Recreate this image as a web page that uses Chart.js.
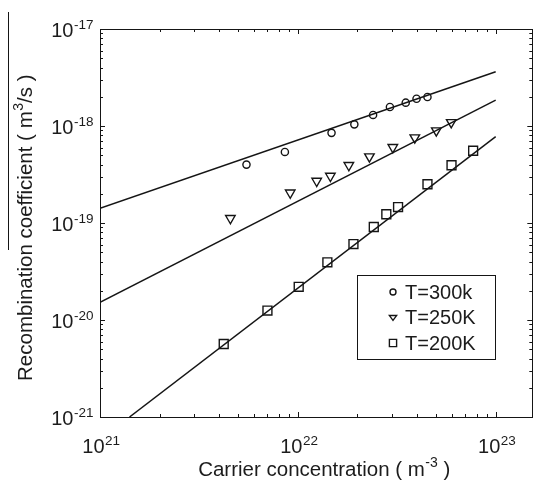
<!DOCTYPE html>
<html>
<head>
<meta charset="utf-8">
<script src="https://cdn.jsdelivr.net/npm/chart.js@4.4.1/dist/chart.umd.min.js"></script>
<style>
  html, body { margin: 0; padding: 0; background: #fff; overflow: hidden; }
  #wrap { width: 535px; height: 486px; overflow: hidden; }
</style>
</head>
<body>
<div id="wrap"><canvas id="myChart" width="540" height="486"></canvas></div>
<script>
// carrier concentration (m^-3) and recombination coefficient (m^3/s)
const conc300 = [5.5e21, 8.6e21, 1.48e22, 1.93e22, 2.4e22, 2.92e22, 3.51e22, 3.98e22, 4.52e22];
const coef300 = [4.0e-19, 5.4e-19, 8.5e-19, 1.04e-18, 1.3e-18, 1.57e-18, 1.74e-18, 1.91e-18, 1.99e-18];
const conc250 = [4.56e21, 9.15e21, 1.245e22, 1.46e22, 1.81e22, 2.3e22, 3.02e22, 3.9e22, 5.01e22, 5.96e22];
const coef250 = [1.12e-19, 2.05e-19, 2.71e-19, 3.05e-19, 3.94e-19, 4.83e-19, 6.03e-19, 7.58e-19, 8.95e-19, 1.09e-18];
const conc200 = [4.22e21, 7.02e21, 1.01e22, 1.41e22, 1.91e22, 2.42e22, 2.8e22, 3.21e22, 4.52e22, 5.98e22, 7.69e22];
const coef200 = [5.66e-21, 1.25e-20, 2.2e-20, 3.93e-20, 6.06e-20, 9.1e-20, 1.23e-19, 1.46e-19, 2.51e-19, 3.94e-19, 5.56e-19];

// fitted power-law lines (end points)
const fitConc = [1e21, 1e23];
const fit300 = [1.42e-19, 3.63e-18];
const fit250 = [1.52e-20, 1.85e-18];
const fitConc200 = [1.41e21, 1e23];
const fit200 = [1e-21, 7.76e-19];

const labels = ["T=300k", "T=250K", "T=200K"];
const xDecades = [21, 22, 23];
const yDecades = [-21, -20, -19, -18, -17];

const ink = "#151515";
const face = "Arial, 'Liberation Sans', sans-serif";
const pts = (xs, ys) => xs.map((v, i) => ({ x: v, y: ys[i] }));

function drawMarker(ctx, style, x, y, r) {
  ctx.beginPath();
  if (style === "circle") {
    ctx.arc(x, y, r, 0, Math.PI * 2);
  } else if (style === "triangle") {
    const h = r * 0.9;
    ctx.moveTo(x - r, y - h * 0.6);
    ctx.lineTo(x + r, y - h * 0.6);
    ctx.lineTo(x, y + h * 0.9);
    ctx.closePath();
  } else {
    ctx.rect(x - r, y - r, r * 2, r * 2);
  }
  ctx.stroke();
}

// text runs with superscript pieces, laid out left to right
function runText(ctx, parts, x, y, align, big, small, rise) {
  const bigFont = big + "px " + face;
  const smallFont = small + "px " + face;
  let total = 0;
  parts.forEach(p => { ctx.font = p.sup ? smallFont : bigFont; total += ctx.measureText(p.t).width; });
  let cx = align === "center" ? x - total / 2 : align === "right" ? x - total : x;
  ctx.textAlign = "left";
  ctx.textBaseline = "alphabetic";
  parts.forEach(p => {
    ctx.font = p.sup ? smallFont : bigFont;
    ctx.fillText(p.t, cx, p.sup ? y - rise : y);
    cx += ctx.measureText(p.t).width + (p.sup ? 0 : 0.5);
  });
}

const powLabel = (ctx, exp, x, base, align) =>
  runText(ctx, [{ t: "10" }, { t: exp, sup: true }], x, base, align, 20, 13.5, 8.5);

const framePlugin = {
  id: "frame",
  afterDraw(chart) {
    const { ctx, chartArea: a, scales: { x, y } } = chart;
    ctx.save();
    ctx.strokeStyle = ink;
    ctx.fillStyle = "#1c1c1c";
    ctx.lineWidth = 1;
    ctx.strokeRect(Math.round(a.left) + 0.5, Math.round(a.top) + 0.5,
      Math.round(a.right - a.left), Math.round(a.bottom - a.top));

    // inward ticks, decades longer
    ctx.beginPath();
    xDecades.forEach(d => {
      for (let m = 1; m <= 9; m++) {
        const v = m * Math.pow(10, d);
        if (v > x.max) break;
        const px = Math.round(x.getPixelForValue(v)) + 0.5;
        const len = m === 1 ? 5 : 3;
        ctx.moveTo(px, a.bottom); ctx.lineTo(px, a.bottom - len);
        ctx.moveTo(px, a.top); ctx.lineTo(px, a.top + len);
      }
    });
    yDecades.forEach(d => {
      for (let m = 1; m <= 9; m++) {
        const v = m * Math.pow(10, d);
        if (v > y.max * 1.0001) break;
        const py = Math.round(y.getPixelForValue(v)) + 0.5;
        const len = m === 1 ? 5 : 3;
        ctx.moveTo(a.left, py); ctx.lineTo(a.left + len, py);
        ctx.moveTo(a.right, py); ctx.lineTo(a.right - len, py);
      }
    });
    ctx.stroke();

    // decade labels
    xDecades.forEach(d => {
      powLabel(ctx, String(d), x.getPixelForValue(Math.pow(10, d)) + 1, a.bottom + 36, "center");
    });
    yDecades.forEach(d => {
      powLabel(ctx, String(d), 93, y.getPixelForValue(Math.pow(10, d)) + 8, "right");
    });

    // axis titles
    runText(ctx, [{ t: "Carrier concentration ( m" }, { t: "-3", sup: true }, { t: " )" }],
      324, 476, "center", 20.5, 14, 9);
    ctx.save();
    ctx.translate(32, 228);
    ctx.rotate(-Math.PI / 2);
    runText(ctx, [{ t: "Recombination coefficient ( m" }, { t: "3", sup: true }, { t: "/s )" }],
      0, 0, "center", 20.5, 14, 9);
    ctx.restore();

    // left rule
    ctx.beginPath();
    ctx.moveTo(8.5, 12); ctx.lineTo(8.5, 250);
    ctx.stroke();

    // legend box
    const bx = 357, by = 275, bw = 138, bh = 84;
    ctx.fillStyle = "#fff";
    ctx.fillRect(bx, by, bw, bh);
    ctx.strokeRect(bx + 0.5, by + 0.5, bw, bh);
    ctx.fillStyle = "#1c1c1c";
    const rows = chart.data.datasets.filter(ds => ds.showLine === false);
    rows.forEach((ds, i) => {
      const ry = by + 17 + i * 25.5;
      ctx.lineWidth = 1.4;
      drawMarker(ctx, ds.pointStyle, 393, ry, ds.pointStyle === "circle" ? 3 : 3.6);
      ctx.font = "20px " + face;
      ctx.textAlign = "left";
      ctx.textBaseline = "middle";
      ctx.fillText(ds.label, 405, ry + 1);
    });
    ctx.restore();
  }
};

const markerBase = {
  showLine: false,
  borderColor: ink,
  backgroundColor: "rgba(0,0,0,0)",
  pointBorderColor: ink,
  pointBackgroundColor: "rgba(0,0,0,0)",
  pointBorderWidth: 1.4,
};
const fitBase = {
  showLine: true,
  borderColor: ink,
  borderWidth: 1.5,
  pointRadius: 0,
  fill: false,
};

const chart = new Chart(document.getElementById("myChart"), {
  type: "scatter",
  data: {
    datasets: [
      { ...fitBase, label: "fit300", data: pts(fitConc, fit300) },
      { ...fitBase, label: "fit250", data: pts(fitConc, fit250) },
      { ...fitBase, label: "fit200", data: pts(fitConc200, fit200) },
      { ...markerBase, label: labels[0], data: pts(conc300, coef300), pointStyle: "circle", pointRadius: 3.6 },
      { ...markerBase, label: labels[1], data: pts(conc250, coef250), pointStyle: "triangle", pointRotation: 180, pointRadius: 5.5 },
      { ...markerBase, label: labels[2], data: pts(conc200, coef200), pointStyle: "rect", pointRadius: 6.3 },
    ],
  },
  options: {
    responsive: false,
    animation: false,
    layout: { padding: { left: 100, top: 29, right: 3, bottom: 69 } },
    scales: {
      x: { type: "logarithmic", min: 1e21, max: Math.pow(10, 23.185), display: false },
      y: { type: "logarithmic", min: 1e-21, max: 1e-17, display: false },
    },
    plugins: {
      legend: { display: false },
      tooltip: { enabled: false },
    },
  },
  plugins: [framePlugin],
});
</script>
</body>
</html>
